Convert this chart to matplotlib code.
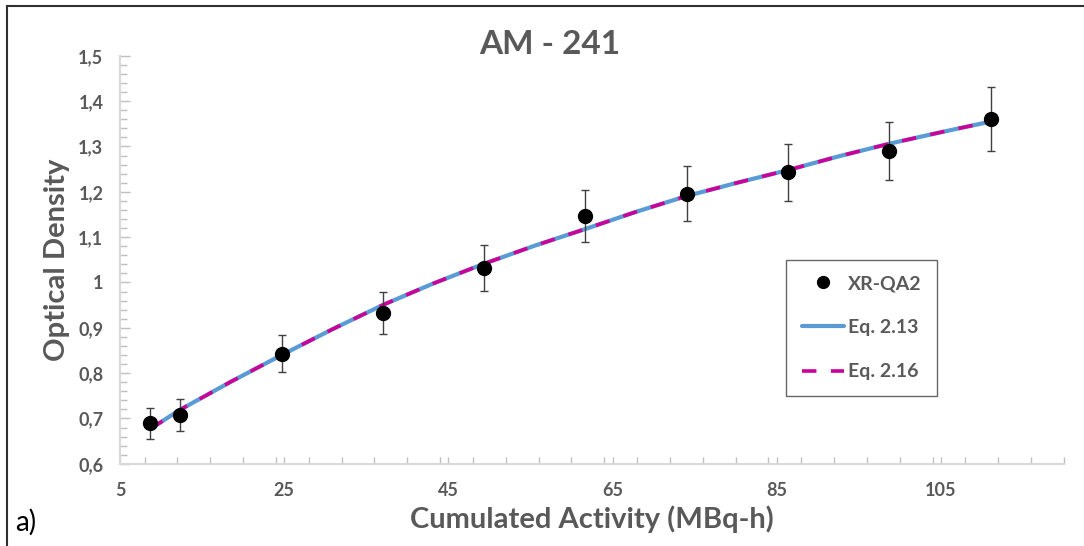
import matplotlib
matplotlib.use("Agg")
import matplotlib.pyplot as plt
from matplotlib.ticker import MultipleLocator, FixedLocator, FuncFormatter

# ---- data ----
activity = [8.7, 12.3, 24.7, 37.1, 49.3, 61.7, 74.1, 86.4, 98.7, 111.1]
optical_density = [0.689, 0.708, 0.843, 0.932, 1.032, 1.146, 1.196, 1.243, 1.290, 1.361]
od_error = [0.034, 0.035, 0.041, 0.046, 0.051, 0.057, 0.060, 0.063, 0.065, 0.070]

curve_x = [8.7, 12.3, 18.5, 24.7, 30.9, 37.1, 43.2, 49.3, 55.5, 61.7, 67.9, 74.1, 80.2, 86.4, 92.5, 98.7, 104.9, 111.1]
eq213_y = [0.677, 0.719, 0.781, 0.840, 0.897, 0.951, 0.998, 1.041, 1.081, 1.118, 1.156, 1.191, 1.220, 1.248, 1.278, 1.306, 1.331, 1.355]
eq216_y = [0.677, 0.719, 0.781, 0.840, 0.897, 0.951, 0.998, 1.041, 1.081, 1.118, 1.156, 1.191, 1.220, 1.248, 1.278, 1.306, 1.331, 1.355]

x_major_ticks = [5, 25, 45, 65, 85, 105]
y_major_ticks = [0.6, 0.7, 0.8, 0.9, 1.0, 1.1, 1.2, 1.3, 1.4, 1.5]

title_text = "AM - 241"
x_label = "Cumulated Activity (MBq-h)"
y_label = "Optical Density"
legend_labels = ["XR-QA2", "Eq. 2.13", "Eq. 2.16"]

# ---- style ----
FONT = ["Lato", "DejaVu Sans"]
plt.rcParams["font.family"] = FONT
GRAY = "#595959"
BLUE = "#5B9BD5"
MAGENTA = "#CC0099"

fig = plt.figure(figsize=(10.84, 5.46), dpi=100)
ax = fig.add_axes([120 / 1084, 1 - 463.8 / 546, (1064 - 120) / 1084, (463.8 - 55.8) / 546])

l1, = ax.plot(curve_x, eq213_y, color=BLUE, lw=3.0, solid_capstyle="round", zorder=2)
l2, = ax.plot(curve_x, eq216_y, color=MAGENTA, lw=2.6, dashes=(4, 4), zorder=3)
eb = ax.errorbar(activity, optical_density, yerr=od_error, fmt="o", color="black",
                 ms=10, ecolor="#404040", elinewidth=1.0, capsize=3, capthick=1.0, zorder=4)

ax.set_xlim(5, 120)
ax.set_ylim(0.6, 1.5)
ax.xaxis.set_major_locator(FixedLocator(x_major_ticks))
ax.xaxis.set_minor_locator(MultipleLocator(4))
ax.yaxis.set_major_locator(FixedLocator(y_major_ticks))
ax.yaxis.set_minor_locator(MultipleLocator(0.02))


def fmt_y(v, pos):
    s = ("%.1f" % v)
    if s.endswith(".0"):
        s = s[:-2]
    return s.replace(".", ",")


ax.yaxis.set_major_formatter(FuncFormatter(fmt_y))

for side in ["top", "right"]:
    ax.spines[side].set_visible(False)
for side in ["left", "bottom"]:
    ax.spines[side].set_color("#D9D9D9")
    ax.spines[side].set_linewidth(1.5)

ax.tick_params(axis="both", which="both", direction="in", color="#BFBFBF", width=1.0)
ax.tick_params(axis="y", which="major", length=7, pad=12)
ax.tick_params(axis="y", which="minor", length=5)
ax.tick_params(axis="x", which="major", length=5, pad=13)
ax.tick_params(axis="x", which="minor", length=5)
for lab in ax.get_xticklabels() + ax.get_yticklabels():
    lab.set_fontsize(13)
    lab.set_fontweight("bold")
    lab.set_color(GRAY)

ax.set_xlabel(x_label, fontsize=21, fontweight="bold", color=GRAY, labelpad=5)
ax.set_ylabel(y_label, fontsize=21, fontweight="bold", color=GRAY, labelpad=6)

fig.text(550 / 1084, 1 - 44 / 546, title_text, fontsize=24, fontweight="bold", color=GRAY,
         ha="center", va="center")
fig.text(15 / 1084, 1 - 522 / 546, "a)", fontsize=20, color="black", ha="left", va="center")

leg = ax.legend([eb.lines[0], l1, l2], legend_labels, loc="upper left",
                bbox_to_anchor=((786 - 120) / 944, 1 - (259.5 - 55.8) / 408),
                borderaxespad=0,
                frameon=True, fancybox=False, edgecolor="#404040", fontsize=14,
                labelspacing=1.4, handlelength=2.2, handletextpad=0.2, borderpad=0.8,
                markerscale=0.85)
leg.get_frame().set_linewidth(1.0)
for t in leg.get_texts():
    t.set_fontweight("bold")
    t.set_color(GRAY)

# figure frame (top and left edges)
fig.add_artist(plt.Line2D([7 / 1084, 7 / 1084], [0, 1 - 6 / 546], transform=fig.transFigure,
                          color="#303030", lw=1.5))
fig.add_artist(plt.Line2D([7 / 1084, 1], [1 - 6 / 546, 1 - 6 / 546], transform=fig.transFigure,
                          color="#303030", lw=1.5))

fig.savefig("out.png", dpi=100)
